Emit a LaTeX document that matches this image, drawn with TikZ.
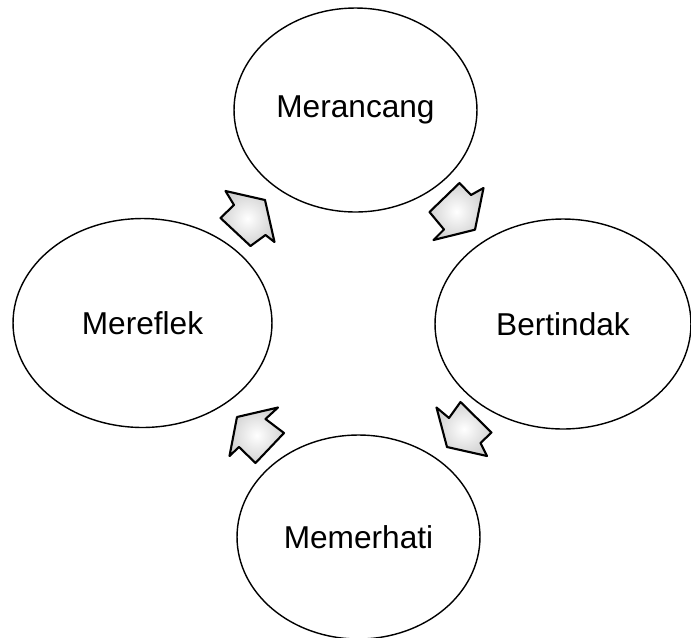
\documentclass[tikz,border=0pt]{standalone}
\usepackage{fontspec}
\setmainfont{Liberation Sans}
\usetikzlibrary{shapes.geometric}

\tikzset{
  stage/.style={ellipse, draw=black, line width=0.8pt, inner sep=0pt,
    font=\fontsize{18}{22}\selectfont},
  blockarrow/.style={draw=black, line width=1.2pt, line join=round,
    inner color=white, outer color=gray!35}
}

\begin{document}
\begin{tikzpicture}[x=0.02cm, y=-0.02cm]
\useasboundingbox (0,0) rectangle (691,637);
% the four stages
\node[stage, minimum width=4.86cm, minimum height=4.08cm] (plan) at (355.5,110) {Merancang};
\node[stage, minimum width=5.12cm, minimum height=4.2cm] (act) at (563,324) {Bertindak};
\node[stage, minimum width=4.86cm, minimum height=4.08cm] (observe) at (358.5,537) {Memerhati};
\node[stage, minimum width=5.18cm, minimum height=4.18cm] (reflect) at (142.5,323) {Mereflek};
% arrows between stages
\draw[blockarrow] (475,229.7) -- (483.5,188) -- (471,195) -- (459.5,183) -- (429.5,212) -- (444,229.5) -- (433.5,240) -- cycle;
\draw[blockarrow] (447,447) -- (436.5,407.5) -- (449,418) -- (460.5,402) -- (491.5,432.5) -- (480.5,443) -- (487,456) -- cycle;
\draw[blockarrow] (237,417) -- (278,407.5) -- (265.5,419) -- (284,433) -- (255.5,463) -- (239,447) -- (229.5,456) -- cycle;
\draw[blockarrow] (265,200) -- (225.5,191) -- (234,205) -- (220.5,218) -- (250.5,246) -- (265.5,235) -- (274.5,242) -- cycle;
\end{tikzpicture}
\end{document}
